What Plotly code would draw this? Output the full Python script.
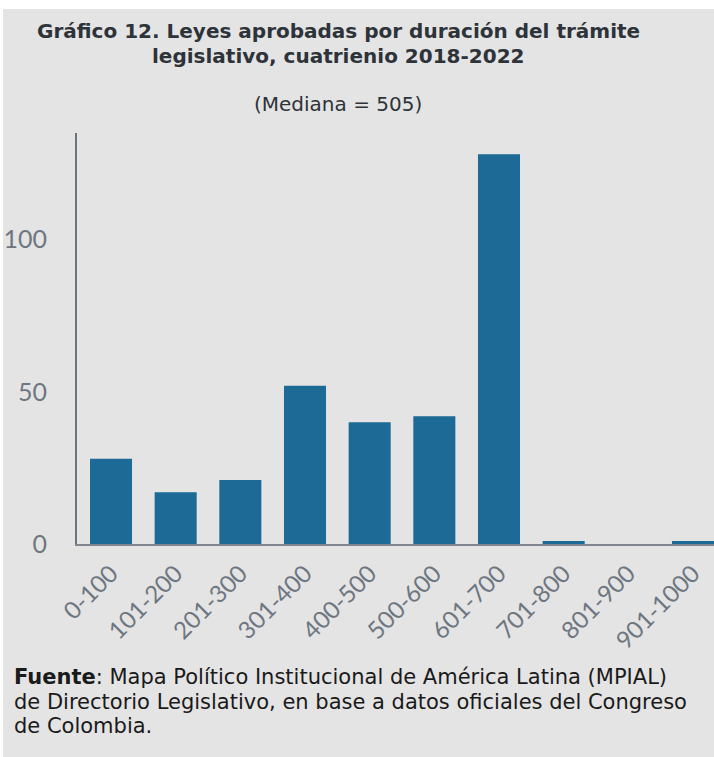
import plotly.graph_objects as go

categories = ["0-100", "101-200", "201-300", "301-400", "400-500",
              "500-600", "601-700", "701-800", "801-900", "901-1000"]
leyes = [28, 17, 21, 52, 40, 42, 128, 1, 0, 1]
y_ticks = [0, 50, 100]

title_lines = ["Gráfico 12. Leyes aprobadas por duración del trámite",
               "legislativo, cuatrienio 2018-2022"]
subtitle = "(Mediana = 505)"
source_lines = ["<b>Fuente</b>: Mapa Político Institucional de América Latina (MPIAL)",
                "de Directorio Legislativo, en base a datos oficiales del Congreso",
                "de Colombia."]

W, H = 714, 757
ML, MR, MT, MB = 77, 0, 133, 213
PW, PH = W - ML - MR, H - MT - MB


def px_x(px):
    return (px - ML) / PW


def px_y(py):
    return (H - MB - py) / PH


BG = "#e4e4e4"
BAR = "#1d6a96"
TICK = "#6e7781"
FONT = "DejaVu Sans"

fig = go.Figure(go.Bar(x=categories, y=leyes, marker_color=BAR,
                       marker_line_width=0))

annotations = []
for line, base in zip(title_lines, [37, 62]):
    size = 20
    annotations.append(dict(
        text=line, xref="paper", yref="paper",
        x=px_x(338), y=px_y(base - 0.32 * size), xanchor="center",
        yanchor="middle", showarrow=False,
        font=dict(family=FONT, size=size, color="#2d3339", weight="bold")))
annotations.append(dict(
    text=subtitle, xref="paper", yref="paper",
    x=px_x(338), y=px_y(110 - 0.32 * 20), xanchor="center", yanchor="middle",
    showarrow=False, font=dict(family=FONT, size=20, color="#2d3339")))
for line, base in zip(source_lines, [684, 708.5, 733]):
    size = 21
    annotations.append(dict(
        text=line, xref="paper", yref="paper",
        x=px_x(12), y=px_y(base - 0.32 * size), xanchor="left",
        yanchor="middle", showarrow=False, align="left",
        font=dict(family=FONT, size=size, color="#1a1a1a")))

fig.update_layout(
    width=W, height=H,
    margin=dict(l=ML, r=MR, t=MT, b=MB, pad=0),
    paper_bgcolor=BG, plot_bgcolor=BG,
    bargap=0.35, showlegend=False,
    xaxis=dict(range=[-0.526, 9.325], showline=True, linecolor="#7f868d",
               linewidth=2, ticks="", tickangle=-45, showgrid=False,
               zeroline=False, ticklabelstandoff=4, automargin=False,
               tickfont=dict(family="Lato", size=24, color=TICK)),
    yaxis=dict(range=[0, 135], showline=True, linecolor="#6b7580",
               linewidth=2, ticks="", tickvals=y_ticks, showgrid=False,
               zeroline=False, ticklabelstandoff=23, automargin=False,
               tickfont=dict(family="Lato", size=25, color=TICK)),
    shapes=[
        dict(type="rect", xref="paper", yref="paper", layer="below",
             x0=px_x(-2), x1=px_x(W + 2), y0=px_y(9), y1=px_y(-2),
             fillcolor="white", line_width=0),
        dict(type="rect", xref="paper", yref="paper", layer="below",
             x0=px_x(-2), x1=px_x(3), y0=px_y(H + 2), y1=px_y(-2),
             fillcolor="white", line_width=0),
    ],
    annotations=annotations,
)

fig.write_html("out.html", config={"displayModeBar": False},
               post_script="document.body.style.margin='0px';")
